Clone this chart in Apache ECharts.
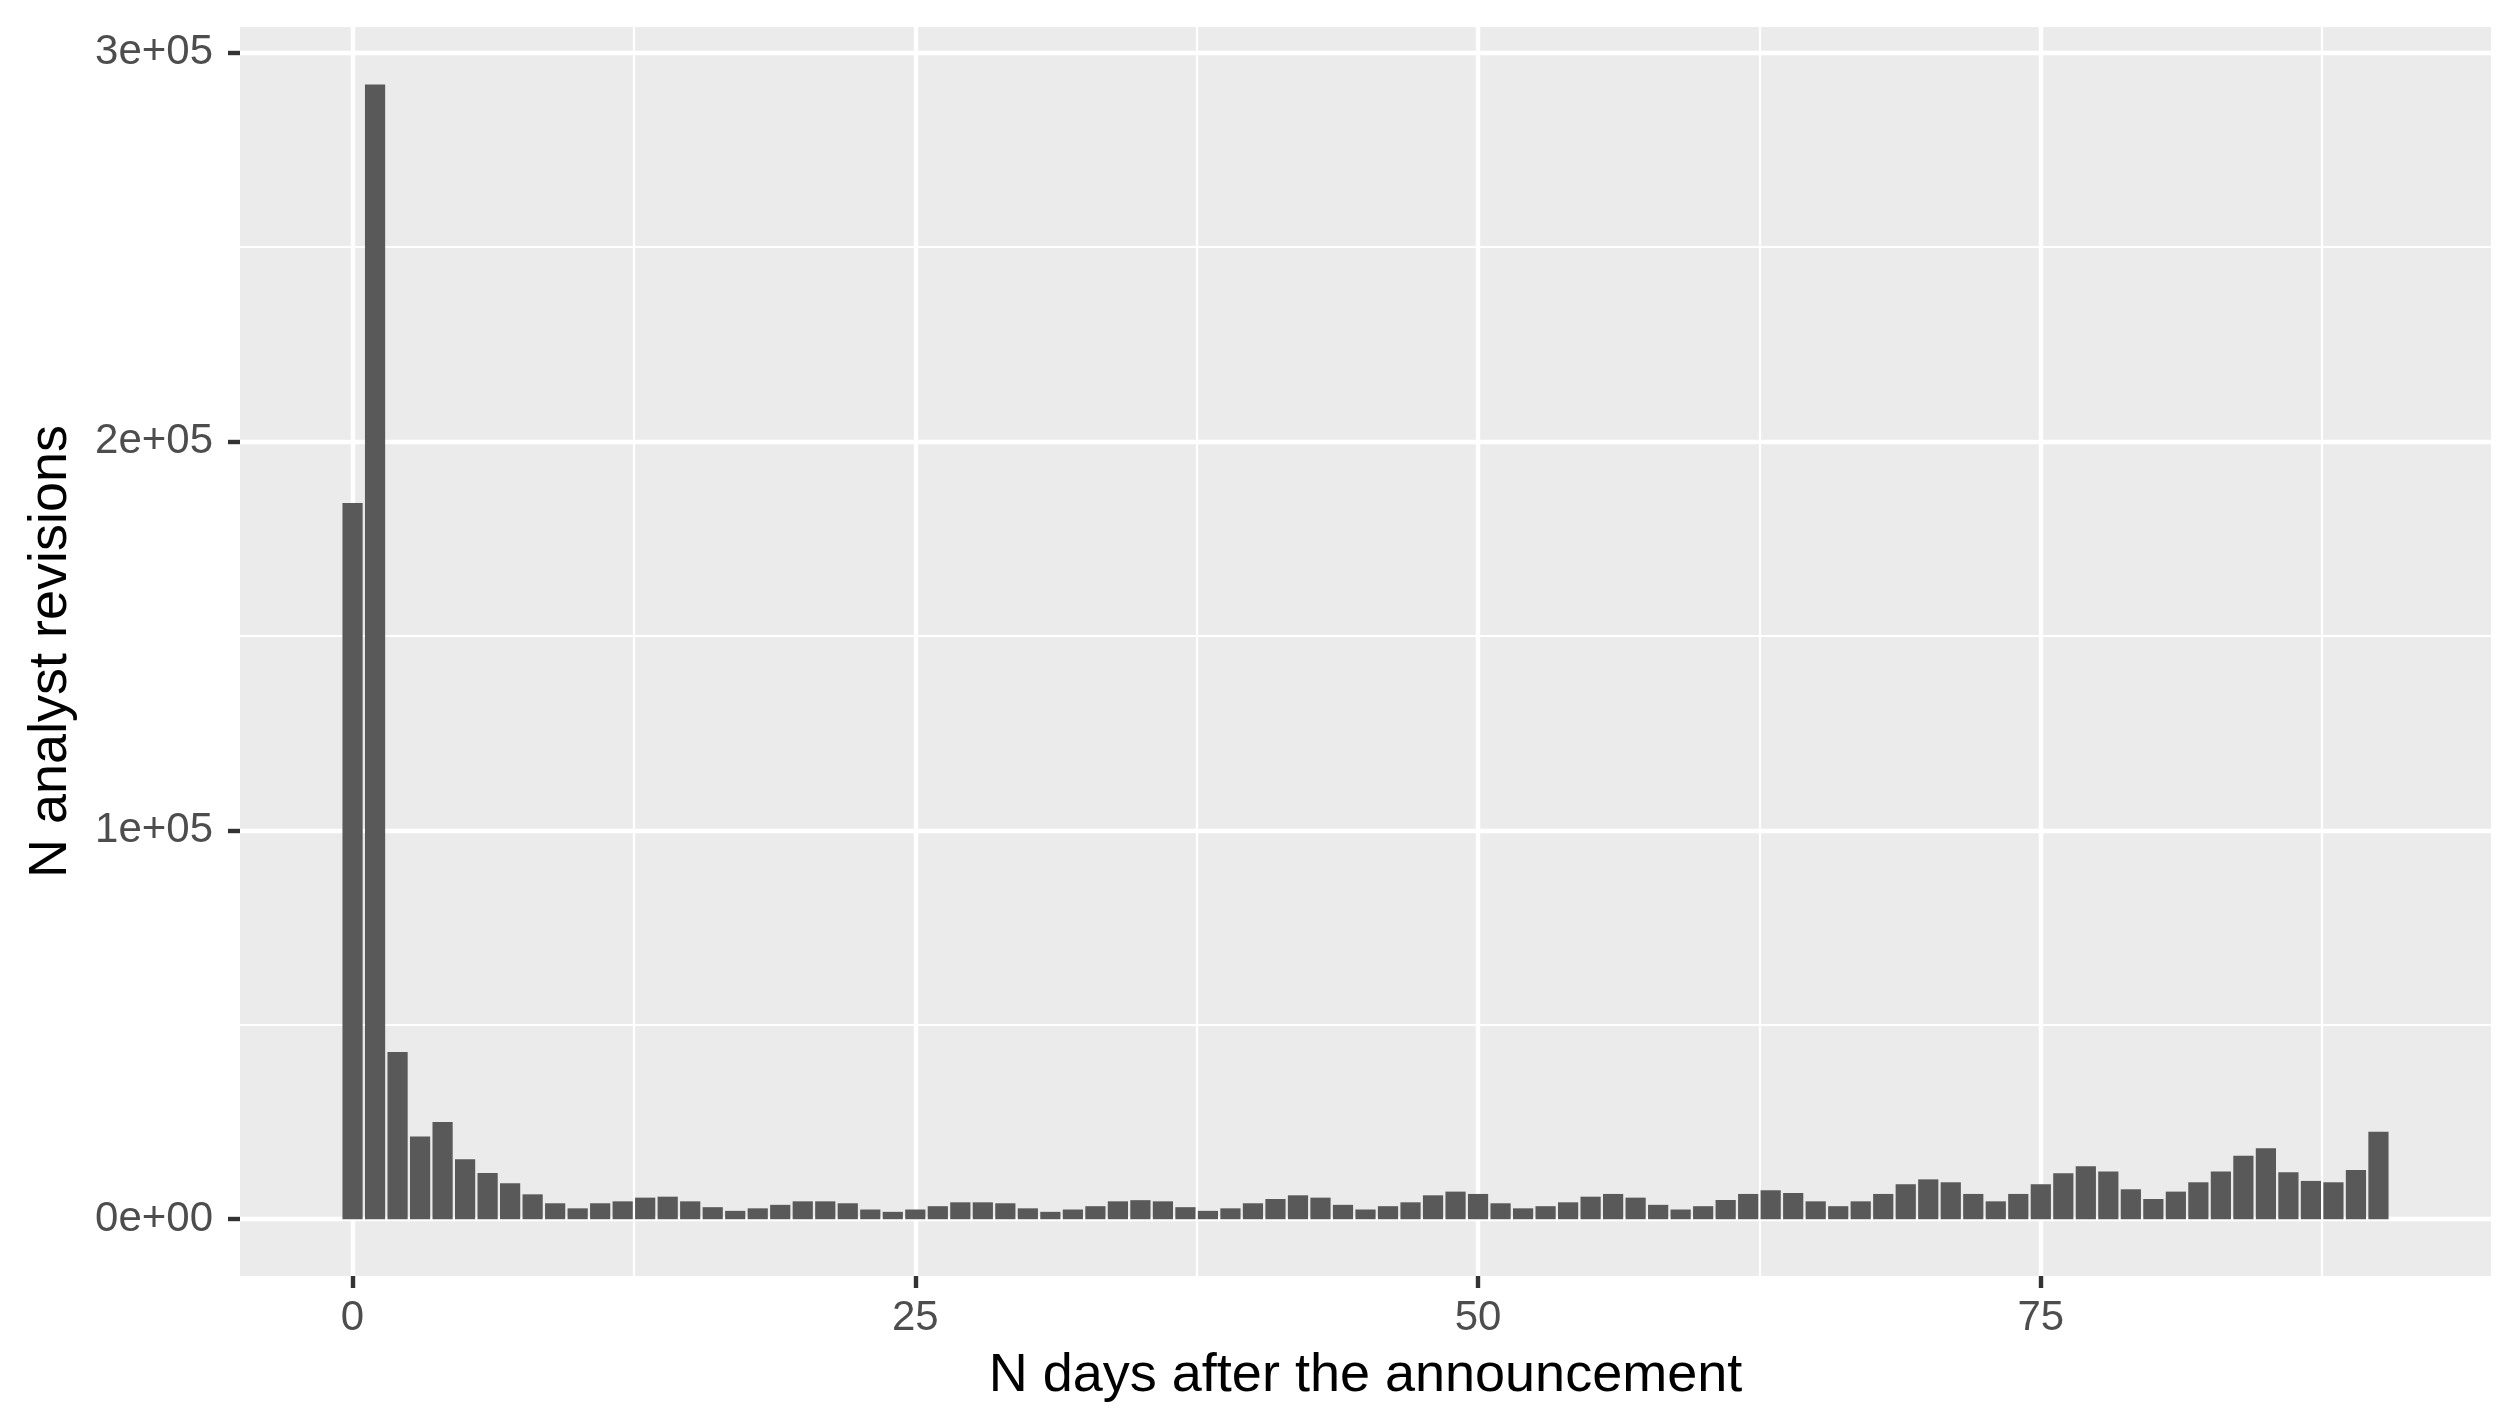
<!DOCTYPE html>
<html>
<head>
<meta charset="utf-8">
<script src="https://cdn.jsdelivr.net/npm/echarts@6/dist/echarts.min.js"></script>
<style>
html, body { margin: 0; padding: 0; background: #ffffff; }
#chart { width: 2514px; height: 1428px; }
</style>
</head>
<body>
<div id="chart"></div>
<script>
// ---- data ----
const days = [0,1,2,3,4,5,6,7,8,9,10,11,12,13,14,15,16,17,18,19,20,21,22,23,24,25,26,27,28,29,
  30,31,32,33,34,35,36,37,38,39,40,41,42,43,44,45,46,47,48,49,50,51,52,53,54,55,56,57,58,59,
  60,61,62,63,64,65,66,67,68,69,70,71,72,73,74,75,76,77,78,79,80,81,82,83,84,85,86,87,88,89,90];
const revisions = [184200,291800,43000,21300,25000,15400,11900,9250,6400,4100,
  2800,4100,4600,5550,5800,4600,3100,2150,2800,3700,
  4600,4600,4100,2500,1900,2500,3350,4350,4350,4100,
  2800,1900,2500,3350,4600,4900,4600,3100,2150,2800,
  4100,5200,6150,5550,3700,2500,3350,4350,6150,7100,
  6500,4100,2800,3350,4350,5800,6500,5550,3700,2500,
  3350,4950,6500,7450,6750,4600,3350,4600,6500,9000,
  10250,9500,6500,4600,6500,9000,11800,13600,12300,7700,
  5200,7100,9500,12300,16350,18250,12050,9850,9500,12650,
  22500];
const xTicks = [0, 25, 50, 75];
const xMinor = [12.5, 37.5, 62.5, 87.5];
const yTicks = [0, 100000, 200000, 300000];
const yTickLabels = ['0e+00', '1e+05', '2e+05', '3e+05'];
const yMinor = [50000, 150000, 250000];
const xTitle = 'N days after the announcement';
const yTitle = 'N analyst revisions';

// ---- chart ----
const FONT = '"Liberation Sans", Arial, Helvetica, sans-serif';
const chart = echarts.init(document.getElementById('chart'), null, { renderer: 'canvas' });

const majorStyle = { color: '#ffffff', width: 4.4, type: 'solid' };
const minorStyle = { color: '#ffffff', width: 2.2, type: 'solid' };
const gridLines = []
  .concat(xMinor.map(v => ({ xAxis: v, lineStyle: minorStyle })))
  .concat(yMinor.map(v => ({ yAxis: v, lineStyle: minorStyle })))
  .concat(xTicks.map(v => ({ xAxis: v, lineStyle: majorStyle })))
  .concat(yTicks.map(v => ({ yAxis: v, lineStyle: majorStyle })));

chart.setOption({
  animation: false,
  grid: {
    left: 240, right: 23, top: 27, bottom: 152,
    show: true, backgroundColor: '#EBEBEB', borderWidth: 0,
    containLabel: false, outerBoundsMode: 'none'
  },
  xAxis: {
    type: 'value', min: -5, max: 95,
    axisLine: { show: false, onZero: false },
    splitLine: { show: false },
    axisTick: { show: true, length: 12, customValues: xTicks, lineStyle: { color: '#333333', width: 4.4 } },
    axisLabel: { customValues: xTicks, margin: 21, color: '#4D4D4D', fontSize: 42, fontFamily: FONT },
    name: xTitle, nameLocation: 'middle', nameGap: 73, nameMoveOverlap: false,
    nameTextStyle: { color: '#000000', fontSize: 54, fontFamily: FONT }
  },
  yAxis: {
    type: 'value', min: -14600, max: 306600,
    axisLine: { show: false, onZero: false },
    splitLine: { show: false },
    axisTick: { show: true, length: 12, customValues: yTicks, lineStyle: { color: '#333333', width: 4.4 } },
    axisLabel: {
      customValues: yTicks, margin: 27, color: '#4D4D4D', fontSize: 42, fontFamily: FONT,
      formatter: function (v) { const i = yTicks.indexOf(v); return i >= 0 ? yTickLabels[i] : ''; }
    },
    name: yTitle, nameLocation: 'middle', nameGap: 162, nameRotate: 90, nameMoveOverlap: false,
    nameTextStyle: { color: '#000000', fontSize: 54, fontFamily: FONT }
  },
  series: [
    {
      type: 'line', data: [], z: 1, silent: true,
      markLine: { z: 1, silent: true, symbol: ['none', 'none'], label: { show: false }, emphasis: { disabled: true }, data: gridLines }
    },
    {
      type: 'bar', z: 10, barWidth: 20.2,
      itemStyle: { color: '#595959' },
      emphasis: { disabled: true },
      data: days.map((d, i) => [d, revisions[i]])
    }
  ]
});
</script>
</body>
</html>
